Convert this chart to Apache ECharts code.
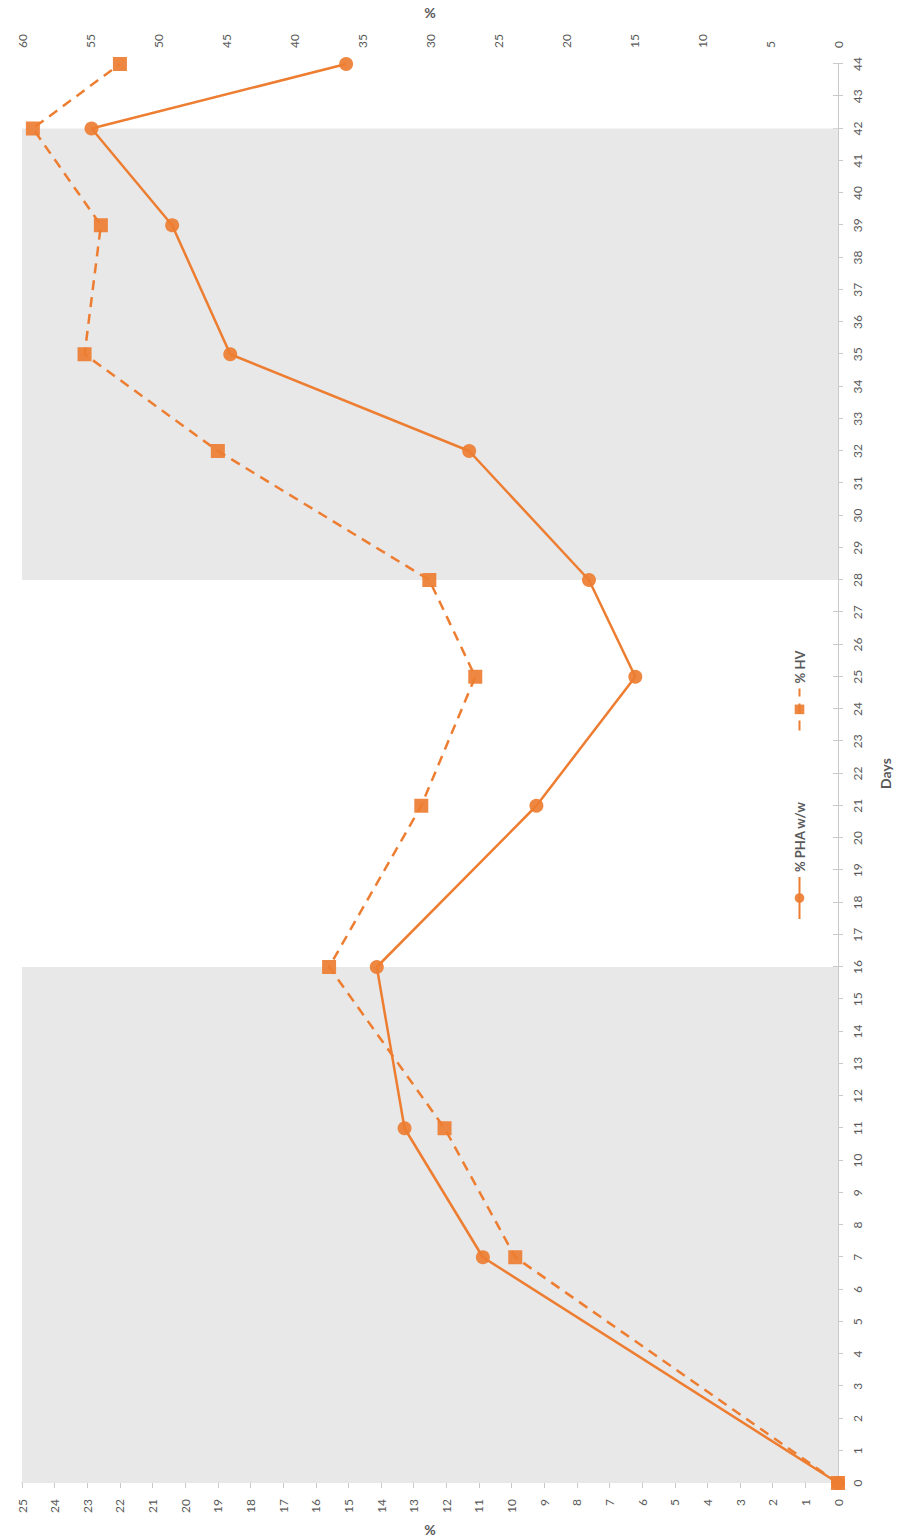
<!DOCTYPE html>
<html>
<head>
<meta charset="utf-8">
<script src="https://cdn.jsdelivr.net/npm/echarts@6/dist/echarts.min.js"></script>
<style>
  html, body { margin: 0; padding: 0; background: #ffffff; }
  body { width: 906px; height: 1540px; overflow: hidden; position: relative; }
  /* chart is laid out landscape, then turned a quarter turn counter-clockwise */
  #chart {
    position: absolute; left: 0; top: 0;
    width: 1540px; height: 906px;
    transform-origin: 0 0;
    transform: translateY(1540px) rotate(-90deg);
  }
</style>
</head>
<body>
<div id="chart"></div>
<script>
// Sampling days
const days = [0, 7, 11, 16, 21, 25, 28, 32, 35, 39, 42, 44];
// PHA content (% w/w), left scale
const phaContent = [0, 10.88, 13.28, 14.13, 9.24, 6.21, 7.63, 11.3, 18.62, 20.4, 22.87, 15.07];
// HV fraction (%), right scale
const hvContent = [0, 23.73, 28.93, 37.42, 30.64, 26.67, 30.05, 45.6, 55.4, 54.2, 59.2, 52.8];
// Shaded operating periods (start day, end day)
const shadedPeriods = [[0, 16], [28, 42]];
// Axis ranges and tick steps
const dayAxis = { min: 0, max: 44, step: 1 };
const phaAxis = { min: 0, max: 25, step: 1 };
const hvAxis = { min: 0, max: 60, step: 5 };
const seriesNames = ['% PHA w/w', '% HV'];

const ORANGE = '#ED7D31';
const AXIS_GREY = '#C9C9C9';
const TEXT_GREY = '#595959';
const FONT = 'Lato, "Open Sans", sans-serif';

const chart = echarts.init(document.getElementById('chart'), null, { renderer: 'svg' });

const tickLabel = { color: TEXT_GREY, fontSize: 12, fontFamily: FONT };
const titleText = { color: TEXT_GREY, fontSize: 14, fontWeight: 'bold', fontFamily: FONT };

chart.setOption({
  animation: false,
  backgroundColor: '#ffffff',
  textStyle: { fontFamily: FONT },
  grid: { left: 57, right: 64, top: 22, bottom: 68, containLabel: false, outerBoundsMode: 'none' },
  legend: {
    data: seriesNames,
    left: 615,
    top: 788,
    itemWidth: 42,
    itemHeight: 12,
    itemGap: 70,
    textStyle: { color: TEXT_GREY, fontSize: 13, fontWeight: 'bold', fontFamily: FONT }
  },
  xAxis: [
    {
      type: 'value', position: 'bottom',
      min: dayAxis.min, max: dayAxis.max, interval: dayAxis.step,
      name: 'Days', nameLocation: 'middle', nameGap: 40, nameTextStyle: titleText,
      axisLine: { lineStyle: { color: AXIS_GREY, width: 1 } },
      axisTick: { length: 5, lineStyle: { color: AXIS_GREY } },
      axisLabel: Object.assign({ margin: 13 }, tickLabel),
      splitLine: { show: false }
    },
    {
      type: 'value', position: 'bottom',
      min: dayAxis.min, max: dayAxis.max, interval: dayAxis.step,
      axisLine: { show: false },
      axisTick: { inside: true, length: 5, lineStyle: { color: AXIS_GREY } },
      axisLabel: { show: false },
      splitLine: { show: false }
    }
  ],
  yAxis: [
    {
      type: 'value', position: 'left',
      min: phaAxis.min, max: phaAxis.max, interval: phaAxis.step,
      name: '%', nameLocation: 'middle', nameGap: 39, nameTextStyle: titleText,
      axisLine: { show: true, lineStyle: { color: AXIS_GREY, width: 1 } },
      axisTick: { show: true, length: 5, lineStyle: { color: AXIS_GREY } },
      axisLabel: Object.assign({ margin: 16 }, tickLabel),
      splitLine: { show: false }
    },
    {
      type: 'value', position: 'right',
      min: hvAxis.min, max: hvAxis.max, interval: hvAxis.step,
      name: '%', nameLocation: 'middle', nameGap: 44, nameTextStyle: titleText,
      axisLine: { show: true, lineStyle: { color: AXIS_GREY, width: 1 } },
      axisTick: { show: true, length: 5, lineStyle: { color: AXIS_GREY } },
      axisLabel: Object.assign({ margin: 16 }, tickLabel),
      splitLine: { show: false }
    },
    {
      type: 'value', position: 'left',
      min: phaAxis.min, max: phaAxis.max, interval: phaAxis.step,
      axisLine: { show: false },
      axisTick: { show: true, inside: true, length: 5, lineStyle: { color: AXIS_GREY } },
      axisLabel: { show: false },
      splitLine: { show: false }
    }
  ],
  series: [
    {
      name: 'periods', type: 'line', data: [], z: 1,
      xAxisIndex: 0, yAxisIndex: 0,
      markArea: {
        silent: true,
        itemStyle: { color: '#E8E8E8' },
        data: shadedPeriods.map(p => [{ xAxis: p[0] }, { xAxis: p[1] }])
      }
    },
    {
      name: seriesNames[0], type: 'line', z: 3, clip: false,
      xAxisIndex: 0, yAxisIndex: 0,
      data: days.map((d, i) => [d, phaContent[i]]),
      symbol: 'circle', symbolSize: 14,
      lineStyle: { color: ORANGE, width: 2.5 },
      itemStyle: { color: ORANGE, opacity: 0.92 }
    },
    {
      name: seriesNames[1], type: 'line', z: 4, clip: false,
      xAxisIndex: 0, yAxisIndex: 1,
      data: days.map((d, i) => [d, hvContent[i]]),
      symbol: 'rect', symbolSize: 14,
      lineStyle: { color: ORANGE, width: 2.5, type: [10, 7] },
      itemStyle: { color: ORANGE, opacity: 0.92 }
    }
  ]
});
</script>
</body>
</html>
